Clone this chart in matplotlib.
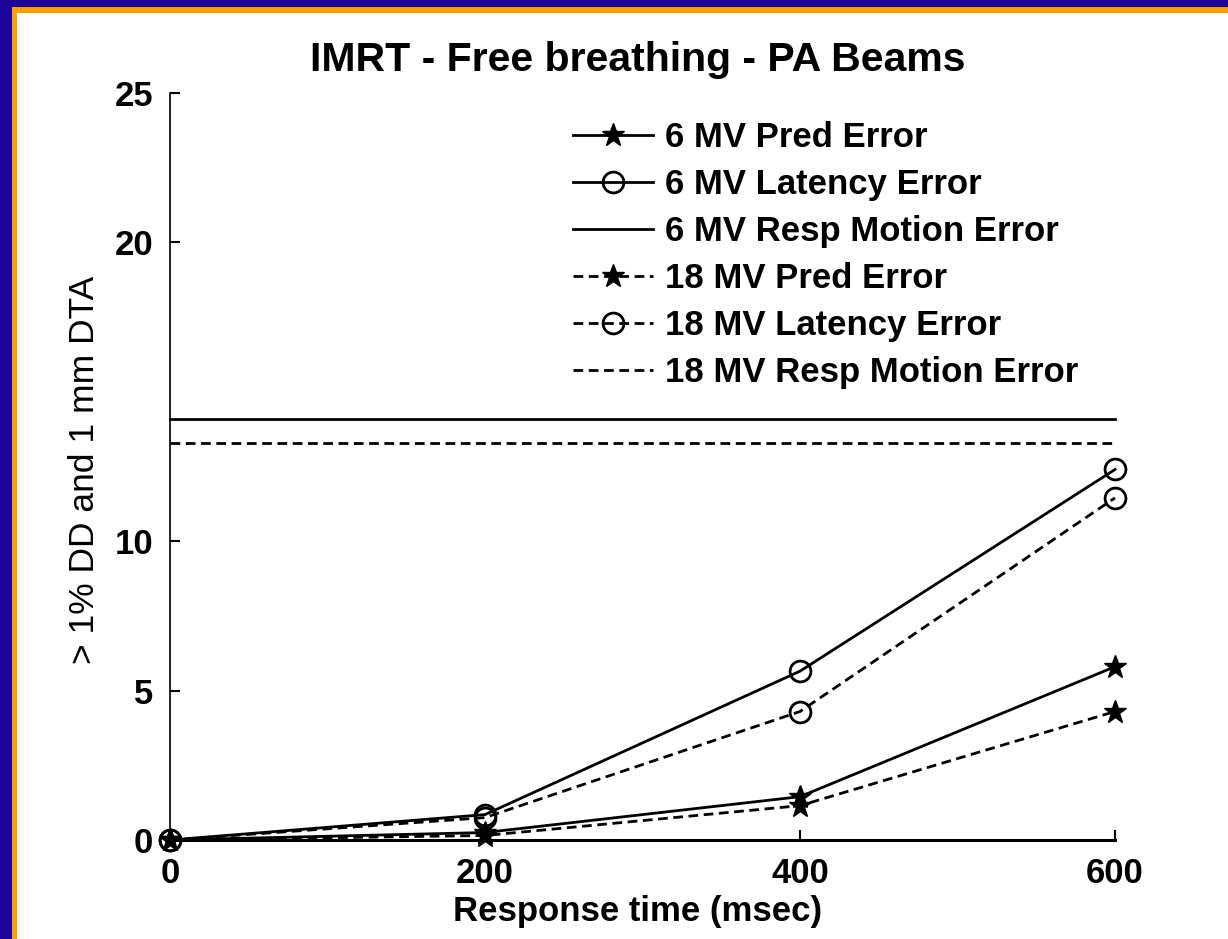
import numpy as np
import matplotlib
matplotlib.use("Agg")
import matplotlib.pyplot as plt
from matplotlib.patches import Rectangle

# ── data ──────────────────────────────────────────────────────────────
response_time = [0, 200, 400, 600]

mv6_pred = [0.0, 0.25, 1.45, 5.8]
mv6_latency = [0.0, 0.85, 5.65, 12.4]
mv6_resp_motion = 14.1

mv18_pred = [0.0, 0.15, 1.15, 4.3]
mv18_latency = [0.0, 0.75, 4.3, 11.45]
mv18_resp_motion = 13.3

x_ticks = [0, 200, 400, 600]
y_ticks = [0, 5, 10, 20, 25]

plt.rcParams["font.family"] = ["Liberation Sans", "DejaVu Sans"]

fig = plt.figure(figsize=(12.28, 9.39), dpi=100)
fig.patch.set_facecolor("#1c0596")

# slide frame: orange edge + white panel
fig.patches.append(Rectangle((12 / 1228, 0), 1, 1 - 7 / 939, transform=fig.transFigure,
                             facecolor="#ffa000", edgecolor="none", zorder=-2))
fig.patches.append(Rectangle((17 / 1228, 0), 1, 1 - 13 / 939, transform=fig.transFigure,
                             facecolor="white", edgecolor="none", zorder=-1))

ax = fig.add_axes([170 / 1228, 1 - 840 / 939, 945 / 1228, 747 / 939])
ax.set_facecolor("none")

dash = (3.5, 2.0)
lw = 2.0

ax.plot(response_time, mv6_pred, color="black", lw=lw, marker="*", ms=17,
        mfc="black", mec="black", label="6 MV Pred Error")
ax.plot(response_time, mv6_latency, color="black", lw=lw, marker="o", ms=15,
        mfc="none", mec="black", mew=2, label="6 MV Latency Error")
ax.plot([x_ticks[0], x_ticks[-1]], [mv6_resp_motion] * 2, color="black", lw=lw,
        label="6 MV Resp Motion Error")
ax.plot(response_time, mv18_pred, color="black", lw=lw, ls=(0, dash), marker="*", ms=17,
        mfc="black", mec="black", label="18 MV Pred Error")
ax.plot(response_time, mv18_latency, color="black", lw=lw, ls=(0, dash), marker="o", ms=15,
        mfc="none", mec="black", mew=2, label="18 MV Latency Error")
ax.plot([x_ticks[0], x_ticks[-1]], [mv18_resp_motion] * 2, color="black", lw=lw,
        ls=(0, dash), label="18 MV Resp Motion Error")

ax.set_xlim(0, 600)
ax.set_ylim(0, 25)
ax.set_xticks(x_ticks)
ax.set_yticks(y_ticks)
ax.tick_params(direction="in", length=7, width=1.5, labelsize=25, pad=12)
for lab in ax.get_xticklabels() + ax.get_yticklabels():
    lab.set_fontweight("bold")

for side in ["top", "right"]:
    ax.spines[side].set_visible(False)
ax.spines["left"].set_linewidth(1.2)
ax.spines["bottom"].set_linewidth(2.2)

for ln in ax.lines:
    ln.set_clip_on(False)

fig.text(638 / 1228, 1 - 60 / 939, "IMRT - Free breathing - PA Beams", ha="center",
         va="center", fontsize=29.5, fontweight="bold")
fig.text(638 / 1228, 1 - 911 / 939, "Response time (msec)", ha="center", va="center",
         fontsize=25, fontweight="bold")
fig.text(85 / 1228, 1 - 470 / 939, "> 1% DD and 1 mm DTA", ha="center", va="center",
         rotation=90, fontsize=25.5)

leg = ax.legend(loc="upper left", bbox_to_anchor=(549 / 1228, 1 - 97 / 939),
                bbox_transform=fig.transFigure, frameon=False, fontsize=25,
                handlelength=2.3, handletextpad=0.35, labelspacing=0.4, borderpad=0.2)
for t in leg.get_texts():
    t.set_fontweight("bold")

fig.savefig("out.png", dpi=100, facecolor=fig.get_facecolor())
